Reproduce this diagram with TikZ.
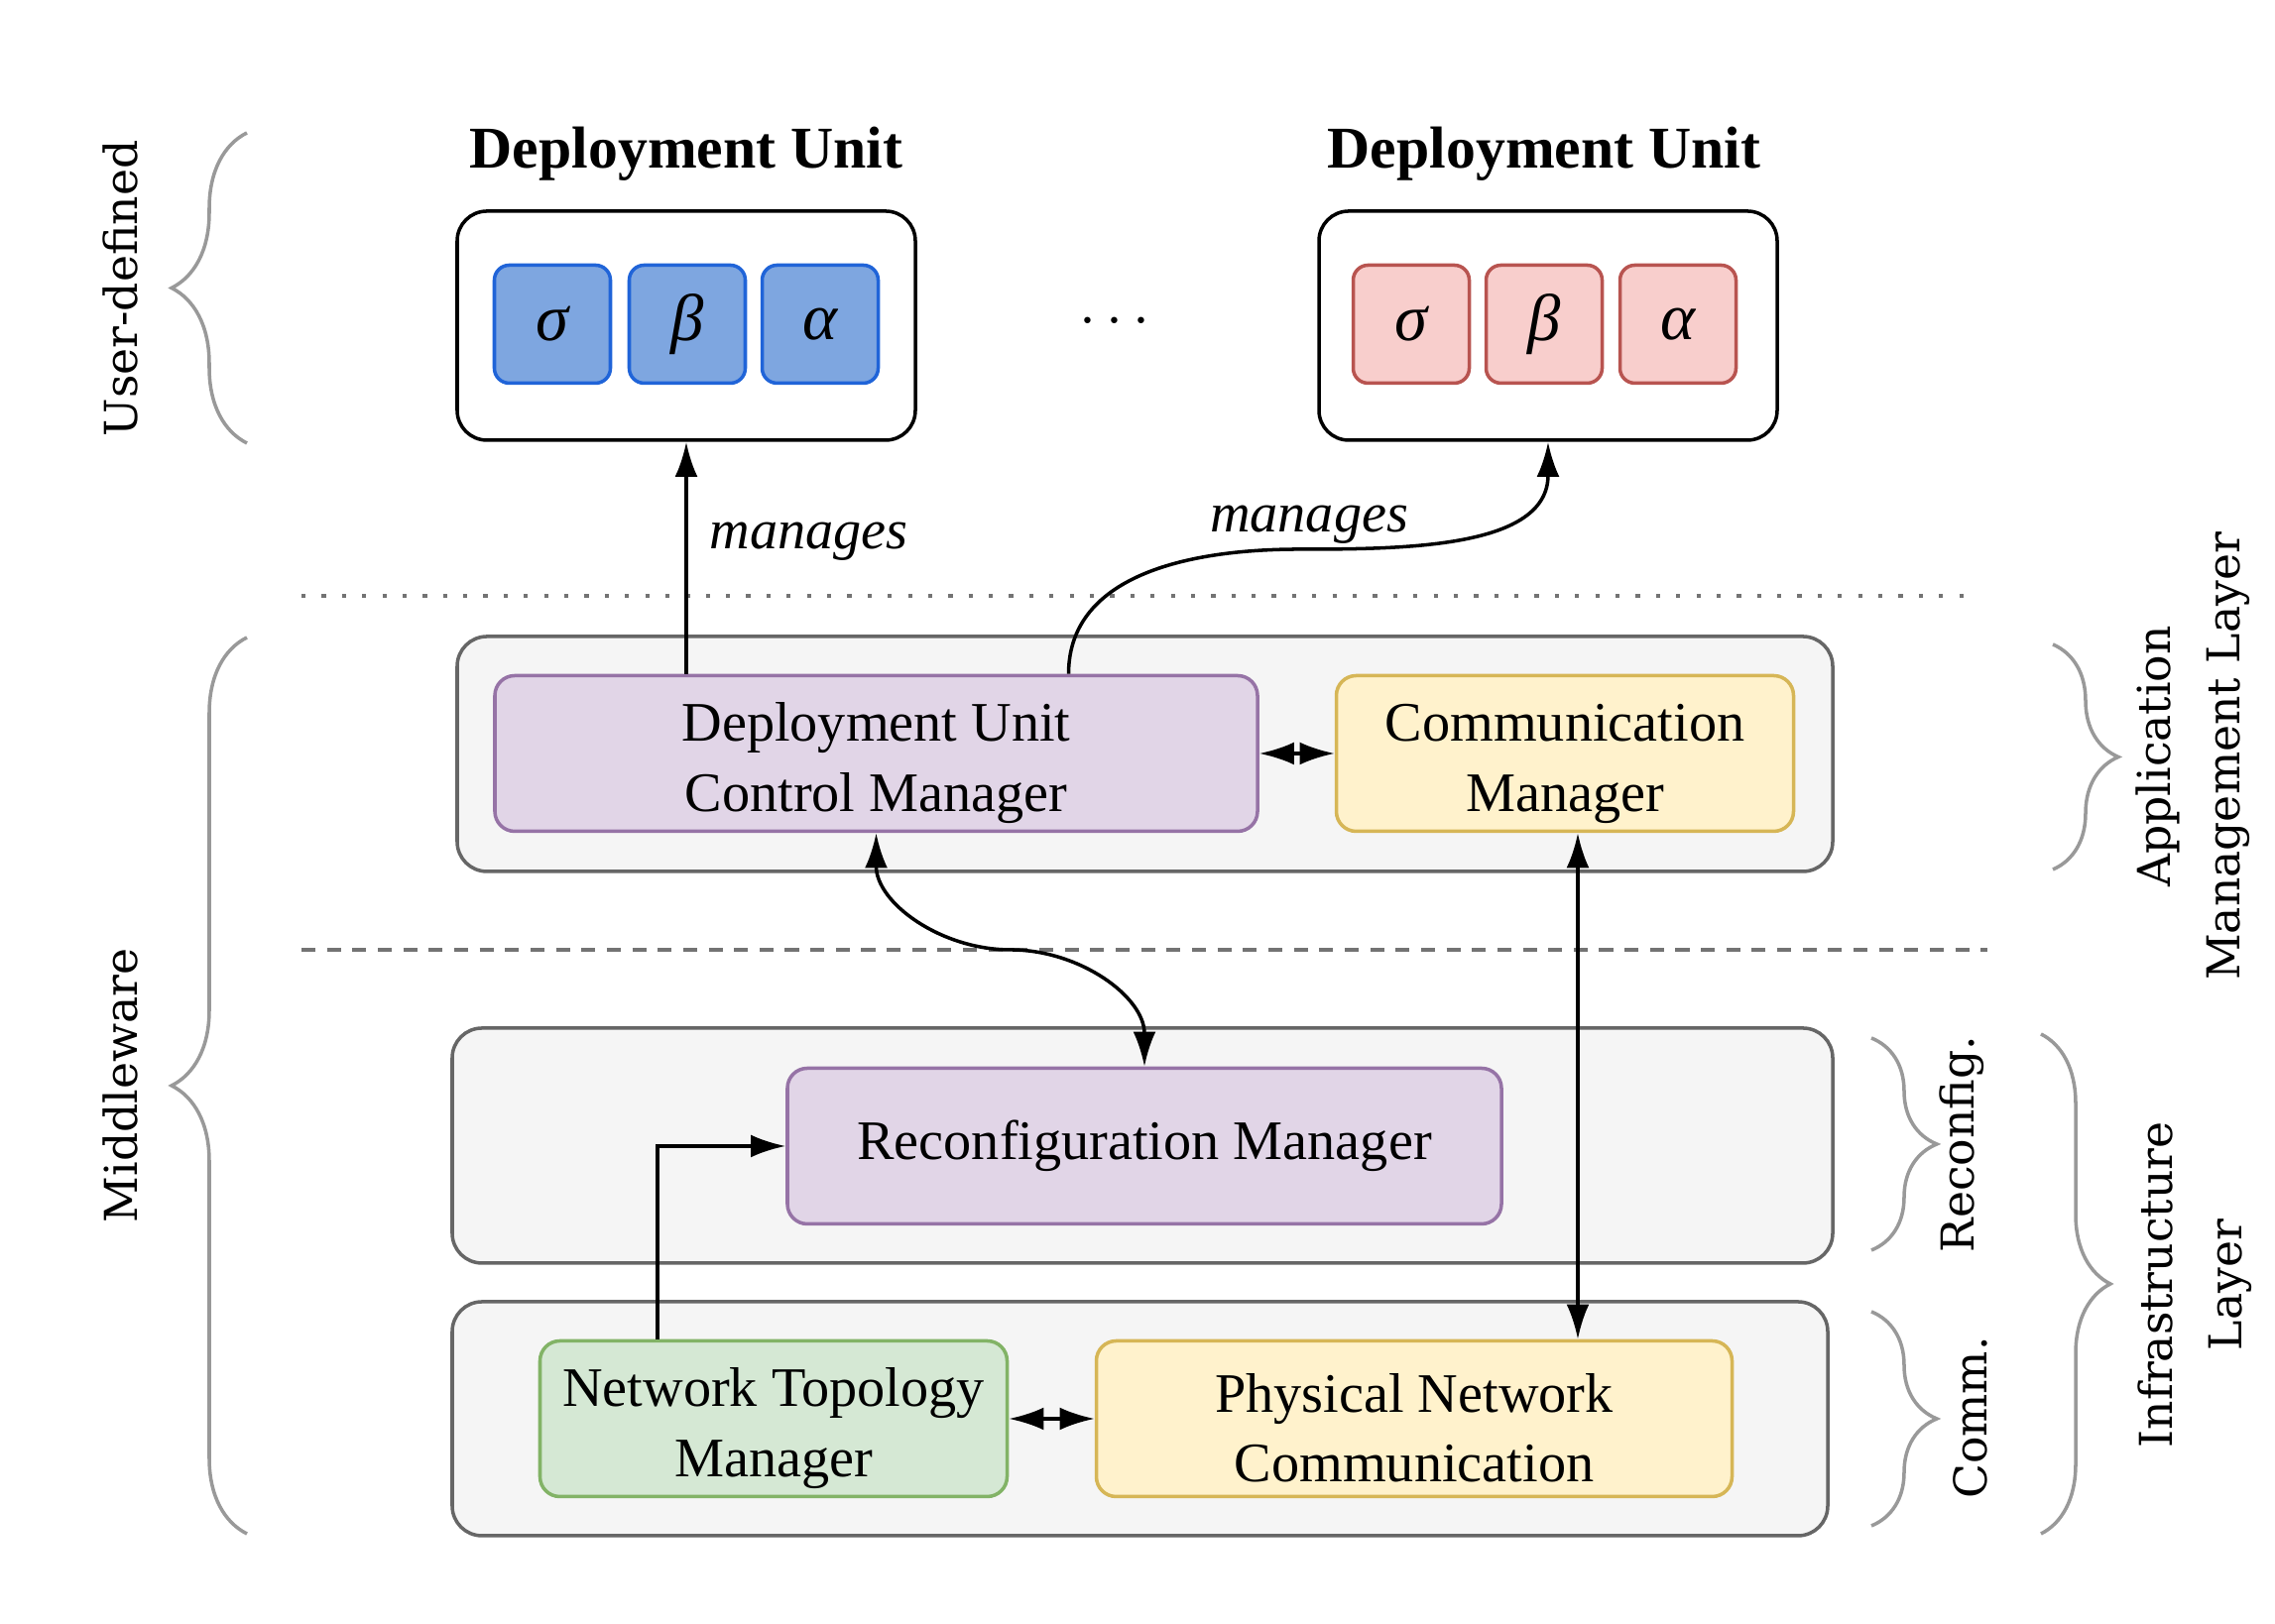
\documentclass[tikz,border=0pt]{standalone}
\usepackage{fontspec}
\setmainfont{Liberation Serif}
\newfontfamily\sidefont{DejaVu Serif}
\usetikzlibrary{arrows.meta,decorations.pathreplacing}

\definecolor{fnBlue}{HTML}{7EA6E0}
\definecolor{fnBlueLine}{HTML}{2064D8}
\definecolor{fnRed}{HTML}{F8CECC}
\definecolor{fnRedLine}{HTML}{B85450}
\definecolor{mgrPurple}{HTML}{E1D5E7}
\definecolor{mgrPurpleLine}{HTML}{9673A6}
\definecolor{mgrYellow}{HTML}{FFF2CC}
\definecolor{mgrYellowLine}{HTML}{D6B656}
\definecolor{mgrGreen}{HTML}{D5E8D4}
\definecolor{mgrGreenLine}{HTML}{82B366}
\definecolor{layerFill}{HTML}{F5F5F5}
\definecolor{layerLine}{HTML}{666666}

\newcommand{\toplinestrut}{\rule{0pt}{16.5pt}}

\begin{document}
\begin{tikzpicture}[>={Latex[length=10pt,width=6.5pt]},
    unit/.style={draw=black, line width=1pt, rounded corners=0.3cm, minimum width=4.62cm, minimum height=2.31cm},
    fn/.style={line width=1pt, rounded corners=0.15cm, minimum width=1.17cm, minimum height=1.19cm, inner sep=0pt, font=\fontsize{19}{20}\selectfont\itshape},
    layer/.style={draw=layerLine, fill=layerFill, line width=1pt, rounded corners=0.3cm, minimum height=2.37cm},
    mgr/.style={line width=1pt, rounded corners=0.2cm, minimum height=1.57cm, inner sep=0pt, align=center, font=\fontsize{16}{20}\selectfont},
    side/.style={decorate, draw=black!40, line width=1pt},
    sidelabel/.style={rotate=90, align=center, font=\sidefont\fontsize{13}{20}\selectfont},
    manages/.style={font=\fontsize{16}{20}\selectfont\itshape}]

    \useasboundingbox (0,0) rectangle (22.94,16.38);

    %deployment units
    \node[font=\fontsize{17}{20}\selectfont\bfseries] (du1Title) at (6.92,14.83) {Deployment Unit};
    \node[font=\fontsize{17}{20}\selectfont\bfseries] (du2Title) at (15.57,14.83) {Deployment Unit};
    \node[unit] (du1) at (6.92,13.095) {};
    \node[unit] (du2) at (15.61,13.095) {};
    \node[fn, fill=fnBlue, draw=fnBlueLine] (du1Sigma) at (5.57,13.11) {σ};
    \node[fn, fill=fnBlue, draw=fnBlueLine] (du1Beta) at (6.93,13.11) {β};
    \node[fn, fill=fnBlue, draw=fnBlueLine] (du1Alpha) at (8.27,13.11) {α};
    \node[fn, fill=fnRed, draw=fnRedLine] (du2Sigma) at (14.23,13.11) {σ};
    \node[fn, fill=fnRed, draw=fnRedLine] (du2Beta) at (15.57,13.11) {β};
    \node[fn, fill=fnRed, draw=fnRedLine] (du2Alpha) at (16.92,13.11) {α};
    \node[font=\fontsize{16}{20}\selectfont] (moreUnits) at (11.24,13.13) {$\cdots$};

    %separators
    \draw[black!55, line width=1.2pt, dash pattern=on 1.2pt off 4.6pt] (3.04,10.37) -- (19.9,10.37);
    \draw[black!55, line width=1pt, dash pattern=on 4pt off 3.3pt] (3.04,6.8) -- (20.04,6.8);

    %layers
    \node[layer, minimum width=13.87cm] (appLayer) at (11.545,8.775) {};
    \node[layer, minimum width=13.92cm] (reconfLayer) at (11.52,4.825) {};
    \node[layer, minimum width=13.87cm, minimum height=2.36cm] (commLayer) at (11.495,2.07) {};

    %managers
    \node[mgr, fill=mgrPurple, draw=mgrPurpleLine, minimum width=7.69cm] (ducm) at (8.835,8.78) {\toplinestrut Deployment Unit\\Control Manager};
    \node[mgr, fill=mgrYellow, draw=mgrYellowLine, minimum width=4.61cm] (cm) at (15.78,8.78) {\toplinestrut Communication\\Manager};
    \node[mgr, fill=mgrPurple, draw=mgrPurpleLine, minimum width=7.2cm] (rm) at (11.54,4.82) {Reconfiguration Manager};
    \node[mgr, fill=mgrGreen, draw=mgrGreenLine, minimum width=4.71cm] (ntm) at (7.8,2.07) {\toplinestrut Network Topology\\Manager};
    \node[mgr, fill=mgrYellow, draw=mgrYellowLine, minimum width=6.41cm] (pnc) at (14.26,2.07) {\toplinestrut Physical Network\\Communication};

    %connections
    \draw[->, line width=1pt] (du1.south |- ducm.north) -- (du1.south) node[manages, pos=0.57, right=0.1cm] {manages};
    \draw[->, line width=1pt] ([xshift=1.94cm]ducm.north) to[out=90,in=180] (13.1,10.84) coordinate (bendUp) node[manages, above=-0.08cm, xshift=0.1cm] {manages} to[out=0,in=-90] (du2.south);
    \draw[<->, line width=1pt] (ducm.south) to[out=-90,in=180] (10.19,6.8) coordinate (bendDown) to[out=0,in=90] (rm.north);
    \draw[<->, line width=1pt] (ducm.east) -- (cm.west);
    \draw[<->, line width=1pt] ([xshift=0.13cm]cm.south) coordinate (cmFoot) -- (cmFoot |- pnc.north);
    \draw[->, line width=1pt] ([xshift=-1.17cm]ntm.north) |- (rm.west);
    \draw[<->, line width=1pt] (ntm.east) -- (pnc.west);

    %braces
    \coordinate (userBot) at (2.49,11.91);
    \coordinate (userTop) at (2.49,15.04);
    \coordinate (midBot) at (2.49,0.91);
    \coordinate (midTop) at (2.49,9.95);
    \draw[side, decoration={brace, amplitude=0.76cm}] (userBot) -- (userTop);
    \draw[side, decoration={brace, amplitude=0.76cm}] (midBot) -- (midTop);
    \node[sidelabel] (userLbl) at (1.21,13.47) {User-defined};
    \node[sidelabel] (midLbl) at (1.21,5.43) {Middleware};

    \coordinate (appTop) at (20.7,9.88);
    \coordinate (appBot) at (20.7,7.61);
    \coordinate (infraTop) at (20.58,5.95);
    \coordinate (infraBot) at (20.58,0.91);
    \coordinate (reconfTop) at (18.87,5.91);
    \coordinate (reconfBot) at (18.87,3.77);
    \coordinate (commTop) at (18.87,3.15);
    \coordinate (commBot) at (18.87,0.99);
    \draw[side, decoration={brace, amplitude=0.66cm}] (appTop) -- (appBot);
    \draw[side, decoration={brace, amplitude=0.7cm}] (infraTop) -- (infraBot);
    \draw[side, decoration={brace, amplitude=0.66cm}] (reconfTop) -- (reconfBot);
    \draw[side, decoration={brace, amplitude=0.66cm}] (commTop) -- (commBot);
    \node[sidelabel] (appLbl) at (22.11,8.75) {Application\\Management Layer};
    \node[sidelabel] (infraLbl) at (22.13,3.42) {Infrastructure\\Layer};
    \node[sidelabel] (reconfLbl) at (19.78,4.84) {Reconfig.};
    \node[sidelabel] (commLbl) at (19.87,2.08) {Comm.};
\end{tikzpicture}
\end{document}
